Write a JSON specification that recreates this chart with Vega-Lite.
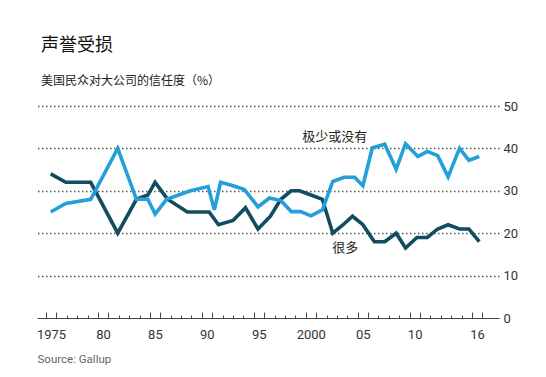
{
  "$schema": "https://vega.github.io/schema/vega-lite/v6.json",
  "width": 462,
  "height": 212,
  "padding": {"left": 36, "top": 37, "right": 10, "bottom": 5},
  "autosize": {"type": "pad"},
  "background": "white",
  "title": {
    "text": "声誉受损",
    "subtitle": "美国民众对大公司的信任度（%）",
    "anchor": "start",
    "frame": "group",
    "dx": 4,
    "font": "Noto Sans CJK SC",
    "fontSize": 18,
    "fontWeight": "normal",
    "color": "#111111",
    "subtitleFont": "Noto Sans CJK SC",
    "subtitleFontSize": 12,
    "subtitleColor": "#222222",
    "subtitlePadding": 21,
    "offset": 13
  },
  "datasets": {
    "series": [
      {"year": 1975.45, "value": 34, "series": "很多"},
      {"year": 1976.9, "value": 32, "series": "很多"},
      {"year": 1979.3, "value": 32, "series": "很多"},
      {"year": 1981.9, "value": 20, "series": "很多"},
      {"year": 1983.7, "value": 28, "series": "很多"},
      {"year": 1984.8, "value": 29, "series": "很多"},
      {"year": 1985.5, "value": 32, "series": "很多"},
      {"year": 1986.7, "value": 28, "series": "很多"},
      {"year": 1988.6, "value": 25, "series": "很多"},
      {"year": 1990.7, "value": 25, "series": "很多"},
      {"year": 1991.6, "value": 22, "series": "很多"},
      {"year": 1993.0, "value": 23, "series": "很多"},
      {"year": 1994.2, "value": 26, "series": "很多"},
      {"year": 1995.4, "value": 21, "series": "很多"},
      {"year": 1996.6, "value": 24, "series": "很多"},
      {"year": 1997.6, "value": 28, "series": "很多"},
      {"year": 1998.6, "value": 30, "series": "很多"},
      {"year": 1999.4, "value": 30, "series": "很多"},
      {"year": 2000.5, "value": 29, "series": "很多"},
      {"year": 2001.6, "value": 28, "series": "很多"},
      {"year": 2002.6, "value": 20, "series": "很多"},
      {"year": 2003.6, "value": 22, "series": "很多"},
      {"year": 2004.5, "value": 24, "series": "很多"},
      {"year": 2005.5, "value": 22, "series": "很多"},
      {"year": 2006.6, "value": 18, "series": "很多"},
      {"year": 2007.6, "value": 18, "series": "很多"},
      {"year": 2008.7, "value": 20, "series": "很多"},
      {"year": 2009.6, "value": 16.5, "series": "很多"},
      {"year": 2010.7, "value": 19, "series": "很多"},
      {"year": 2011.7, "value": 19, "series": "很多"},
      {"year": 2012.7, "value": 21, "series": "很多"},
      {"year": 2013.7, "value": 22, "series": "很多"},
      {"year": 2014.8, "value": 21, "series": "很多"},
      {"year": 2015.7, "value": 21, "series": "很多"},
      {"year": 2016.7, "value": 18, "series": "很多"},
      {"year": 1975.45, "value": 25, "series": "极少或没有"},
      {"year": 1976.9, "value": 27, "series": "极少或没有"},
      {"year": 1979.3, "value": 28, "series": "极少或没有"},
      {"year": 1981.9, "value": 40, "series": "极少或没有"},
      {"year": 1983.7, "value": 28, "series": "极少或没有"},
      {"year": 1984.8, "value": 28, "series": "极少或没有"},
      {"year": 1985.5, "value": 24.5, "series": "极少或没有"},
      {"year": 1986.6, "value": 28, "series": "极少或没有"},
      {"year": 1988.9, "value": 30, "series": "极少或没有"},
      {"year": 1990.6, "value": 31, "series": "极少或没有"},
      {"year": 1991.2, "value": 25.5, "series": "极少或没有"},
      {"year": 1991.8, "value": 32, "series": "极少或没有"},
      {"year": 1993.0, "value": 31.2, "series": "极少或没有"},
      {"year": 1994.1, "value": 30.3, "series": "极少或没有"},
      {"year": 1995.4, "value": 26.2, "series": "极少或没有"},
      {"year": 1996.5, "value": 28.3, "series": "极少或没有"},
      {"year": 1997.6, "value": 27.7, "series": "极少或没有"},
      {"year": 1998.6, "value": 25.1, "series": "极少或没有"},
      {"year": 1999.5, "value": 25.1, "series": "极少或没有"},
      {"year": 2000.5, "value": 24.1, "series": "极少或没有"},
      {"year": 2001.6, "value": 25.5, "series": "极少或没有"},
      {"year": 2002.6, "value": 32.2, "series": "极少或没有"},
      {"year": 2003.7, "value": 33.2, "series": "极少或没有"},
      {"year": 2004.7, "value": 33.2, "series": "极少或没有"},
      {"year": 2005.5, "value": 31.2, "series": "极少或没有"},
      {"year": 2006.4, "value": 40.1, "series": "极少或没有"},
      {"year": 2007.6, "value": 41, "series": "极少或没有"},
      {"year": 2008.7, "value": 35.1, "series": "极少或没有"},
      {"year": 2009.6, "value": 41.1, "series": "极少或没有"},
      {"year": 2010.8, "value": 38.1, "series": "极少或没有"},
      {"year": 2011.7, "value": 39.3, "series": "极少或没有"},
      {"year": 2012.7, "value": 38.3, "series": "极少或没有"},
      {"year": 2013.7, "value": 33.3, "series": "极少或没有"},
      {"year": 2014.8, "value": 40, "series": "极少或没有"},
      {"year": 2015.7, "value": 37.2, "series": "极少或没有"},
      {"year": 2016.7, "value": 38.1, "series": "极少或没有"}
    ],
    "labels": [
      {"year": 2002.8, "value": 42.8, "text": "极少或没有"},
      {"year": 2003.8, "value": 16.5, "text": "很多"}
    ]
  },
  "resolve": {"axis": {"x": "independent"}},
  "layer": [
    {
      "data": {"name": "series"},
      "mark": {"type": "line", "strokeWidth": 3.6, "strokeJoin": "miter", "clip": false},
      "encoding": {
        "x": {
          "field": "year",
          "type": "quantitative",
          "scale": {"domain": [1974.13, 2018.6], "nice": false, "zero": false},
          "axis": {
            "orient": "bottom",
            "title": null,
            "values": [1975,1976,1977,1978,1979,1980,1981,1982,1983,1984,1985,1986,1987,1988,1989,1990,1991,1992,1993,1994,1995,1996,1997,1998,1999,2000,2001,2002,2003,2004,2005,2006,2007,2008,2009,2010,2011,2012,2013,2014,2015,2016,2017],
            "tickCount": 200,
            "labels": false,
            "ticks": true,
            "tickSize": -3,
            "tickColor": "#444444",
            "tickWidth": 1,
            "domain": true,
            "domainColor": "#444444",
            "domainWidth": 1,
            "grid": false
          }
        },
        "y": {
          "field": "value",
          "type": "quantitative",
          "scale": {"domain": [0, 50], "nice": false},
          "axis": {
            "orient": "right",
            "title": null,
            "values": [0, 10, 20, 30, 40, 50],
            "tickCount": 20,
            "domain": false,
            "ticks": false,
            "labelPadding": 4,
            "labelFont": "Roboto",
            "labelFontSize": 13,
            "labelColor": "#333333",
            "grid": true,
            "gridColor": "#555555",
            "gridDash": [1.5, 2.5],
            "gridWidth": 1.5,
            "gridOpacity": {"condition": {"test": "datum.value === 0", "value": 0}, "value": 1}
          }
        },
        "color": {
          "field": "series",
          "type": "nominal",
          "scale": {"domain": ["很多", "极少或没有"], "range": ["#114d5e", "#23a0da"]},
          "legend": null
        }
      }
    },
    {
      "data": {"name": "labels"},
      "transform": [{"filter": "datum.text == '极少或没有'"}],
      "mark": {"type": "text", "font": "Noto Sans CJK SC", "fontSize": 13, "color": "#222222", "align": "center", "baseline": "middle"},
      "encoding": {
        "x": {
          "field": "year",
          "type": "quantitative",
          "axis": {
            "orient": "bottom",
            "title": null,
            "values": [1975,1976,1980,1981,1985,1986,1990,1991,1995,1996,2000,2001,2005,2006,2010,2011,2016,2017],
            "tickCount": 200,
            "labels": false,
            "domain": false,
            "ticks": true,
            "tickSize": -6,
            "tickColor": "#444444",
            "tickWidth": 1,
            "grid": false
          }
        },
        "y": {"field": "value", "type": "quantitative"},
        "text": {"field": "text"}
      }
    },
    {
      "data": {"name": "labels"},
      "transform": [{"filter": "datum.text == '很多'"}],
      "mark": {"type": "text", "font": "Noto Sans CJK SC", "fontSize": 13, "color": "#222222", "align": "center", "baseline": "middle"},
      "encoding": {
        "x": {
          "field": "year",
          "type": "quantitative",
          "axis": {
            "orient": "bottom",
            "title": "Source: Gallup",
            "titleAnchor": "start",
            "titleAlign": "left",
            "titleFont": "Roboto",
            "titleFontSize": 11.5,
            "titleFontWeight": "normal",
            "titleColor": "#666666",
            "titlePadding": 12,
            "values": [1975, 1980, 1985, 1990, 1995, 2000, 2005, 2010, 2016],
            "tickCount": 200,
            "labelExpr": "datum.value == 1975 ? '1975' : datum.value == 1980 ? '80' : datum.value == 1985 ? '85' : datum.value == 1990 ? '90' : datum.value == 1995 ? '95' : datum.value == 2000 ? '2000' : datum.value == 2005 ? '05' : datum.value == 2010 ? '10' : '16'",
            "labelOffset": 5,
            "labelOverlap": false,
            "labelSeparation": 0,
            "labelFlush": false,
            "labelBound": false,
            "labelFont": "Roboto",
            "labelFontSize": 13,
            "labelColor": "#333333",
            "labelPadding": 10,
            "domain": false,
            "ticks": false,
            "grid": false
          }
        },
        "y": {"field": "value", "type": "quantitative"},
        "text": {"field": "text"}
      }
    }
  ],
  "config": {"view": {"stroke": null}, "axis": {"labelOverlap": false}}
}
